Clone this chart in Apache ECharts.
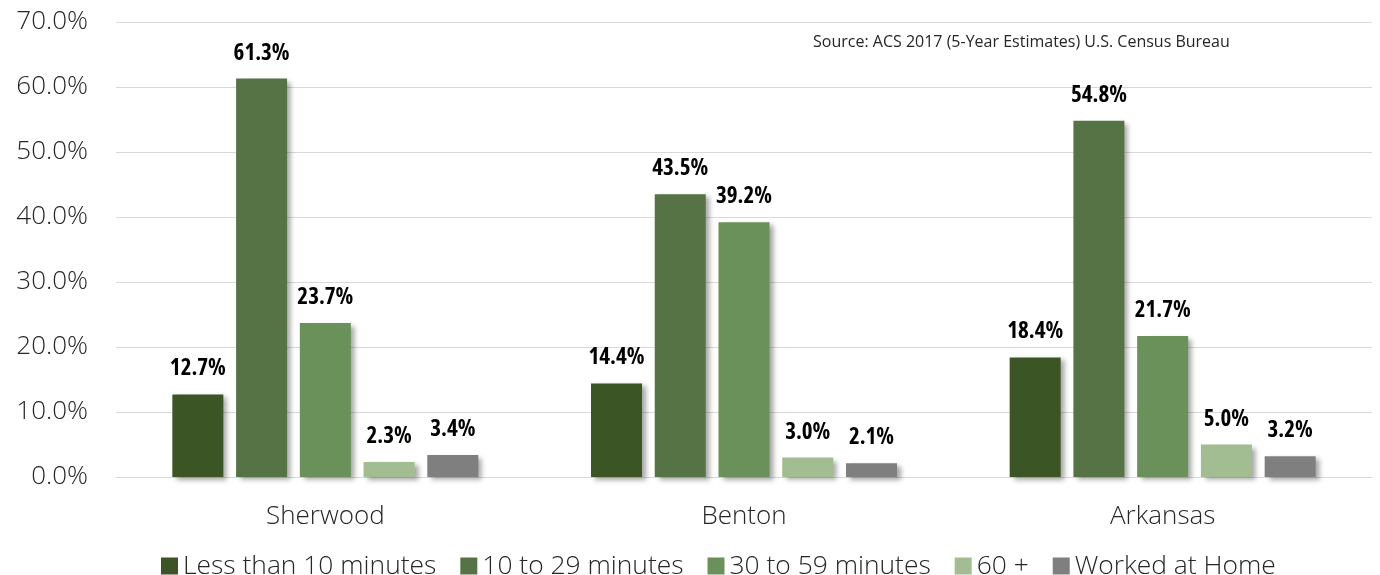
<!DOCTYPE html>
<html>
<head>
<meta charset="utf-8">
<script src="https://cdn.jsdelivr.net/npm/echarts@6/dist/echarts.min.js"></script>
<style>
html,body{margin:0;padding:0;background:#fff;}
#chart{width:1380px;height:575px;}
</style>
</head>
<body>
<div id="chart"></div>
<script>
const categories = ['Sherwood', 'Benton', 'Arkansas'];
const seriesNames = ['Less than 10 minutes', '10 to 29 minutes', '30 to 59 minutes', '60 +', 'Worked at Home'];
const lessThan10 = [12.7, 14.4, 18.4];
const tenTo29 = [61.3, 43.5, 54.8];
const thirtyTo59 = [23.7, 39.2, 21.7];
const sixtyPlus = [2.3, 3.0, 5.0];
const workedAtHome = [3.4, 2.1, 3.2];
const yTicks = [0, 10, 20, 30, 40, 50, 60, 70];
const sourceText = 'Source: ACS 2017 (5-Year Estimates) U.S. Census Bureau';

const colors = ['#3b5524', '#567345', '#6b915a', '#a2bd91', '#7f7f7f'];
const dataSets = [lessThan10, tenTo29, thirtyTo59, sixtyPlus, workedAtHome];

const chart = echarts.init(document.getElementById('chart'), null, {renderer: 'canvas'});
chart.setOption({
  animation: false,
  color: colors,
  grid: {left: 116, right: 8, top: 22, bottom: 98, containLabel: false},
  xAxis: {
    type: 'category',
    data: categories,
    axisLine: {lineStyle: {color: '#d9d9d9', width: 1}},
    axisTick: {show: false},
    axisLabel: {fontFamily: 'Open Sans', fontWeight: 300, fontSize: 26, color: '#262626', margin: 27}
  },
  yAxis: {
    type: 'value',
    min: yTicks[0],
    max: yTicks[yTicks.length - 1],
    interval: 10,
    axisLine: {show: false},
    axisTick: {show: false},
    splitLine: {lineStyle: {color: '#d9d9d9', width: 1}},
    axisLabel: {fontFamily: 'Open Sans', fontWeight: 300, fontSize: 26, color: '#262626', margin: 28,
      formatter: v => v.toFixed(1) + '%'}
  },
  legend: {
    bottom: -9,
    left: 156,
    itemWidth: 17,
    itemHeight: 17,
    itemGap: 24,
    icon: 'rect',
    textStyle: {fontFamily: 'Open Sans', fontWeight: 300, fontSize: 26.4, color: '#262626'},
    data: seriesNames
  },
  graphic: [{
    type: 'text',
    left: 813,
    top: 34,
    style: {text: sourceText, font: '16px "Open Sans"', fill: '#262626'}
  }],
  series: dataSets.map((d, i) => ({
    name: seriesNames[i],
    type: 'bar',
    data: d,
    barWidth: 51,
    barGap: '25%',
    itemStyle: {
      color: colors[i],
      shadowColor: 'rgba(0,0,0,0.35)',
      shadowBlur: 5,
      shadowOffsetX: 4,
      shadowOffsetY: 3
    },
    label: {
      show: true,
      position: 'top',
      distance: 14,
      formatter: p => p.value.toFixed(1) + '%',
      fontFamily: '"Open Sans"',
      fontWeight: 'bold condensed',
      fontSize: 23,
      color: '#000'
    }
  }))
});
</script>
</body>
</html>
